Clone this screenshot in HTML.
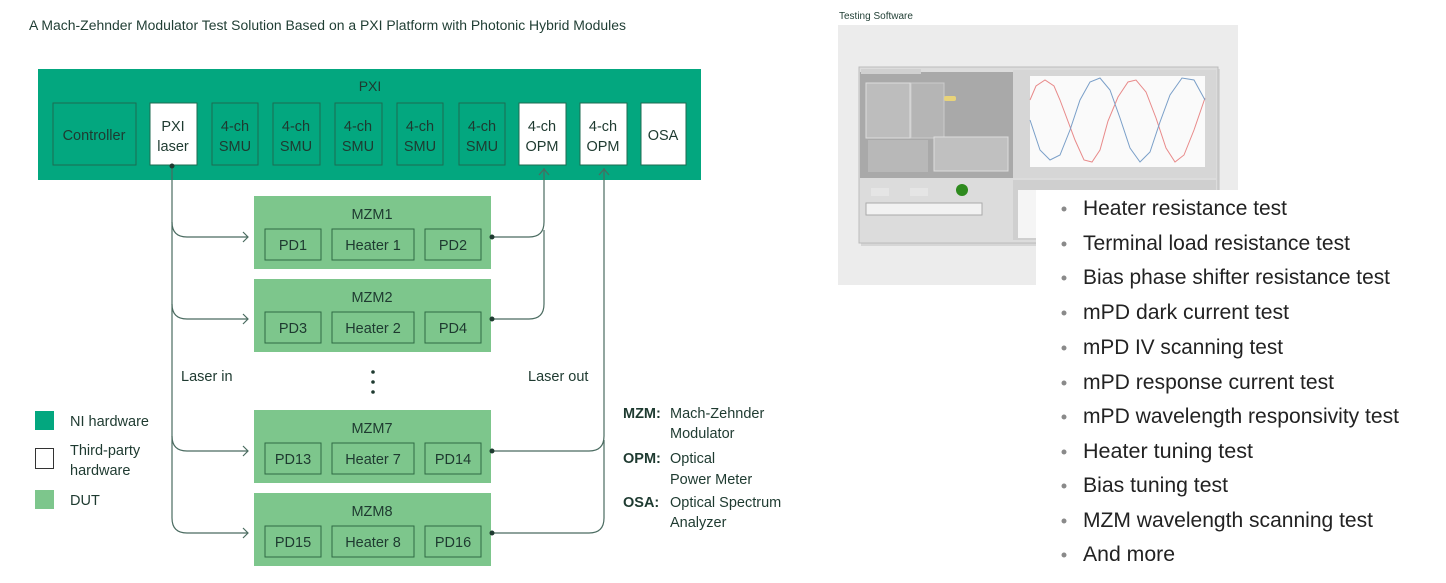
<!DOCTYPE html>
<html><head><meta charset="utf-8"><style>
html,body{margin:0;padding:0;background:#fff;}
svg{display:block;font-family:"Liberation Sans",sans-serif;}
</style></head><body>
<svg width="1446" height="583" viewBox="0 0 1446 583" xmlns="http://www.w3.org/2000/svg">
<text x="29" y="30" font-size="13.5" fill="#1f3d33" textLength="597" lengthAdjust="spacingAndGlyphs">A Mach-Zehnder Modulator Test Solution Based on a PXI Platform with Photonic Hybrid Modules</text>

<!-- PXI -->
<rect x="38" y="69" width="663" height="111" fill="#03a77f"/>
<text x="370" y="91" font-size="14" fill="#1e3a30" text-anchor="middle">PXI</text>
<g stroke="#1d6b52" stroke-width="1">
<rect x="53" y="103" width="83" height="62" fill="#03a77f"/>
<rect x="150" y="103" width="47" height="62" fill="#fff"/>
<rect x="212" y="103" width="46" height="62" fill="#03a77f"/>
<rect x="273" y="103" width="47" height="62" fill="#03a77f"/>
<rect x="335" y="103" width="47" height="62" fill="#03a77f"/>
<rect x="397" y="103" width="46" height="62" fill="#03a77f"/>
<rect x="459" y="103" width="46" height="62" fill="#03a77f"/>
<rect x="519" y="103" width="47" height="62" fill="#fff"/>
<rect x="580" y="103" width="47" height="62" fill="#fff"/>
<rect x="641" y="103" width="45" height="62" fill="#fff"/>
</g>
<g font-size="14.5" fill="#1e3a30" text-anchor="middle">
<text x="94" y="140">Controller</text>
<text x="173" y="131">PXI</text><text x="173" y="151">laser</text>
<text x="235" y="131">4-ch</text><text x="235" y="151">SMU</text>
<text x="296" y="131">4-ch</text><text x="296" y="151">SMU</text>
<text x="358" y="131">4-ch</text><text x="358" y="151">SMU</text>
<text x="420" y="131">4-ch</text><text x="420" y="151">SMU</text>
<text x="482" y="131">4-ch</text><text x="482" y="151">SMU</text>
<text x="542" y="131">4-ch</text><text x="542" y="151">OPM</text>
<text x="603" y="131">4-ch</text><text x="603" y="151">OPM</text>
<text x="663" y="140">OSA</text>
</g>

<!-- MZM boxes -->
<g font-size="14.5" fill="#1e3a30" text-anchor="middle">
<g transform="translate(0,0)">
<rect x="254" y="196" width="237" height="73" fill="#7dc68c"/>
<text x="372" y="219">MZM1</text>
<g stroke="#2f6a45" fill="#7dc68c"><rect x="265" y="229" width="56" height="31"/><rect x="332" y="229" width="82" height="31"/><rect x="425" y="229" width="56" height="31"/></g>
<text x="293" y="250">PD1</text><text x="373" y="250">Heater 1</text><text x="453" y="250">PD2</text>
</g>
<g transform="translate(0,83)">
<rect x="254" y="196" width="237" height="73" fill="#7dc68c"/>
<text x="372" y="219">MZM2</text>
<g stroke="#2f6a45" fill="#7dc68c"><rect x="265" y="229" width="56" height="31"/><rect x="332" y="229" width="82" height="31"/><rect x="425" y="229" width="56" height="31"/></g>
<text x="293" y="250">PD3</text><text x="373" y="250">Heater 2</text><text x="453" y="250">PD4</text>
</g>
<g transform="translate(0,214)">
<rect x="254" y="196" width="237" height="73" fill="#7dc68c"/>
<text x="372" y="219">MZM7</text>
<g stroke="#2f6a45" fill="#7dc68c"><rect x="265" y="229" width="56" height="31"/><rect x="332" y="229" width="82" height="31"/><rect x="425" y="229" width="56" height="31"/></g>
<text x="293" y="250">PD13</text><text x="373" y="250">Heater 7</text><text x="453" y="250">PD14</text>
</g>
<g transform="translate(0,297)">
<rect x="254" y="196" width="237" height="73" fill="#7dc68c"/>
<text x="372" y="219">MZM8</text>
<g stroke="#2f6a45" fill="#7dc68c"><rect x="265" y="229" width="56" height="31"/><rect x="332" y="229" width="82" height="31"/><rect x="425" y="229" width="56" height="31"/></g>
<text x="293" y="250">PD15</text><text x="373" y="250">Heater 8</text><text x="453" y="250">PD16</text>
</g>
</g>

<!-- connectors -->
<g fill="none" stroke="#4a6b60" stroke-width="1.2">
<path d="M172 166 V518 Q172 533 187 533 H248"/>
<path d="M172 222 Q172 237 187 237 H248"/>
<path d="M172 304 Q172 319 187 319 H248"/>
<path d="M172 436 Q172 451 187 451 H248"/>
<path d="M243 232 L248 237 L243 242 M243 314 L248 319 L243 324 M243 446 L248 451 L243 456 M243 528 L248 533 L243 538"/>
<path d="M492 237 H529 Q544 237 544 222 V168"/>
<path d="M492 319 H529 Q544 319 544 304 V230"/>
<path d="M492 451 H589 Q604 451 604 436 V168"/>
<path d="M492 533 H589 Q604 533 604 518 V440"/>
<path d="M539 175 L544 169 L549 175 M599 175 L604 169 L609 175"/>
</g>
<g fill="#1e3a30">
<circle cx="172" cy="166" r="2.5"/>
<circle cx="492" cy="237" r="2.5"/><circle cx="492" cy="319" r="2.5"/><circle cx="492" cy="451" r="2.5"/><circle cx="492" cy="533" r="2.5"/>
<circle cx="373" cy="372" r="1.8"/><circle cx="373" cy="382" r="1.8"/><circle cx="373" cy="392" r="1.8"/>
</g>
<g font-size="14.5" fill="#1e3a30">
<text x="181" y="381">Laser in</text>
<text x="528" y="381">Laser out</text>
</g>

<!-- legend -->
<rect x="35" y="411" width="19" height="19" fill="#03a77f"/>
<rect x="35.5" y="448.5" width="18" height="20" fill="#fff" stroke="#333"/>
<rect x="35" y="490" width="19" height="19" fill="#7dc68c"/>
<g font-size="14.5" fill="#1e3a30">
<text x="70" y="426">NI hardware</text>
<text x="70" y="455">Third-party</text><text x="70" y="475">hardware</text>
<text x="70" y="505">DUT</text>
</g>

<!-- glossary -->
<g font-size="14.5" fill="#1e3a30">
<text x="623" y="418" font-weight="bold">MZM:</text><text x="670" y="418">Mach-Zehnder</text><text x="670" y="438">Modulator</text>
<text x="623" y="463" font-weight="bold">OPM:</text><text x="670" y="463">Optical</text><text x="670" y="484">Power Meter</text>
<text x="623" y="507" font-weight="bold">OSA:</text><text x="670" y="507">Optical Spectrum</text><text x="670" y="527">Analyzer</text>
</g>

<!-- testing software -->
<text x="839" y="19" font-size="10" fill="#1f3d33">Testing Software</text>
<rect x="838" y="25" width="400" height="260" fill="#ececec"/>
<rect x="861" y="69" width="359" height="177" fill="#c8c8c8" opacity="0.6"/>
<rect x="859" y="67" width="359" height="176" fill="#dcdcdc" stroke="#bbb"/>
<rect x="860" y="72" width="154" height="106" fill="#a9a9a9"/>
<rect x="861" y="69" width="60" height="5" fill="#d0d0d0"/>
<rect x="866" y="83" width="44" height="55" fill="#bdbdbd" stroke="#ddd"/>
<rect x="911" y="83" width="33" height="55" fill="#b5b5b5" stroke="#ccc"/>
<rect x="868" y="140" width="30" height="32" fill="#b8b8b8"/>
<rect x="898" y="140" width="30" height="32" fill="#b8b8b8"/>
<rect x="934" y="137" width="74" height="34" fill="#c0c0c0" stroke="#ddd"/>
<rect x="944" y="96" width="12" height="5" rx="2" fill="#e8d37a"/>
<rect x="1013" y="70" width="203" height="108" fill="#d6d6d6"/>
<rect x="1030" y="76" width="175" height="91" fill="#fafafa"/>
<path d="M1030 99 Q1045 40 1060 99 T1090 99 T1120 99 T1150 99 T1180 99 T1210 99" fill="none" stroke="none"/>
<polyline fill="none" stroke="#e88a8a" stroke-width="1" points="1030,100 1036,86 1045,80 1054,86 1060,100 1075,140 1084,160 1092,162 1100,150 1108,121 1118,97 1128,82 1136,80 1146,92 1156,118 1166,148 1175,162 1184,155 1194,130 1205,98"/>
<polyline fill="none" stroke="#7a9fc8" stroke-width="1" points="1030,120 1040,150 1050,160 1060,155 1070,130 1080,100 1090,82 1100,78 1110,90 1120,118 1130,148 1140,162 1150,152 1160,122 1170,95 1182,78 1194,80 1205,100"/>
<rect x="1013" y="180" width="203" height="60" fill="#cfcfcf"/>
<rect x="1018" y="190" width="18" height="48" fill="#f5f5f5"/>
<circle cx="962" cy="190" r="6" fill="#2e8a1e"/>
<rect x="866" y="203" width="116" height="12" fill="#f2f2f2" stroke="#aaa"/>
<rect x="871" y="188" width="18" height="8" fill="#e5e5e5"/><rect x="910" y="188" width="18" height="8" fill="#e5e5e5"/>

<!-- list -->
<rect x="1036" y="190" width="410" height="393" fill="#fff"/>
<g font-size="21" fill="#222">
<g fill="#8a8a8a"><circle cx="1064" cy="209" r="2.5"/><circle cx="1064" cy="244" r="2.5"/><circle cx="1064" cy="278" r="2.5"/><circle cx="1064" cy="313" r="2.5"/><circle cx="1064" cy="348" r="2.5"/><circle cx="1064" cy="383" r="2.5"/><circle cx="1064" cy="417" r="2.5"/><circle cx="1064" cy="452" r="2.5"/><circle cx="1064" cy="486" r="2.5"/><circle cx="1064" cy="521" r="2.5"/><circle cx="1064" cy="555" r="2.5"/></g>
<text x="1083" y="215" textLength="204" lengthAdjust="spacingAndGlyphs">Heater resistance test</text>
<text x="1083" y="250" textLength="267" lengthAdjust="spacingAndGlyphs">Terminal load resistance test</text>
<text x="1083" y="284" textLength="307" lengthAdjust="spacingAndGlyphs">Bias phase shifter resistance test</text>
<text x="1083" y="319" textLength="206" lengthAdjust="spacingAndGlyphs">mPD dark current test</text>
<text x="1083" y="354" textLength="200" lengthAdjust="spacingAndGlyphs">mPD IV scanning test</text>
<text x="1083" y="389" textLength="251" lengthAdjust="spacingAndGlyphs">mPD response current test</text>
<text x="1083" y="423" textLength="316" lengthAdjust="spacingAndGlyphs">mPD wavelength responsivity test</text>
<text x="1083" y="458" textLength="170" lengthAdjust="spacingAndGlyphs">Heater tuning test</text>
<text x="1083" y="492" textLength="145" lengthAdjust="spacingAndGlyphs">Bias tuning test</text>
<text x="1083" y="527" textLength="290" lengthAdjust="spacingAndGlyphs">MZM wavelength scanning test</text>
<text x="1083" y="561" textLength="92" lengthAdjust="spacingAndGlyphs">And more</text>
</g>
</svg>
</body></html>
